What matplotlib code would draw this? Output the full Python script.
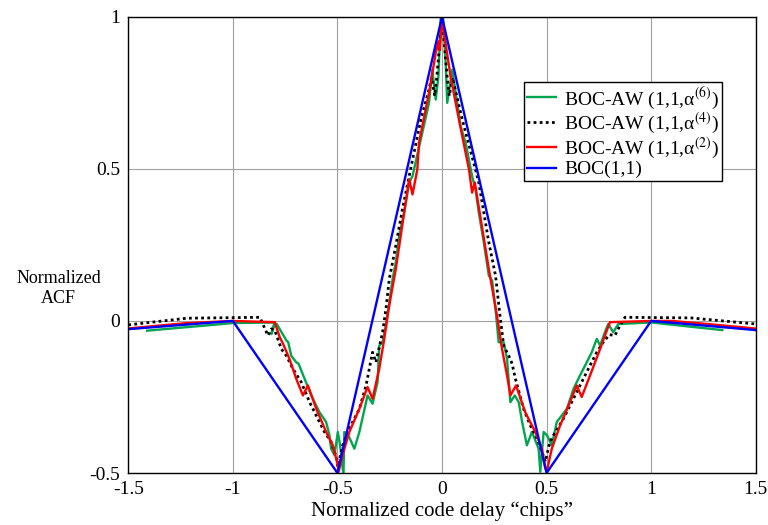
import matplotlib
matplotlib.use("Agg")
import matplotlib.pyplot as plt

plt.rcParams['font.family'] = ['Liberation Serif', 'DejaVu Serif']
plt.rcParams['mathtext.fontset'] = 'stix'
plt.rcParams['axes.unicode_minus'] = False

# BOC(1,1)
blue_x = [-1.5, -1.0, -0.5, 0.0, 0.5, 1.0, 1.5]
blue_y = [-0.027, 0.0, -0.5, 1.0, -0.5, 0.0, -0.03]

# BOC-AW (1,1,alpha^(2))
red_x = [-1.49, -1.22, -1.0, -0.80, -0.776, -0.76, -0.729, -0.697, -0.665, -0.641,
         -0.601, -0.554, -0.522, -0.498, -0.494, -0.475, -0.443, -0.395, -0.356, -0.332,
         -0.300, -0.276, -0.260, -0.244, -0.221, -0.157, -0.141, -0.118, -0.110, -0.062,
         -0.030, -0.022, -0.015, -0.010, 0.0,
         0.017, 0.041, 0.081, 0.129, 0.144, 0.157, 0.224, 0.263, 0.287, 0.311,
         0.327, 0.354, 0.398, 0.446, 0.478, 0.494, 0.502, 0.525, 0.565, 0.605,
         0.644, 0.668, 0.708, 0.756, 0.779, 0.803, 1.0, 1.1, 1.3, 1.5]
red_y = [-0.024, -0.007, 0.0, -0.004, -0.053, -0.075, -0.125, -0.190, -0.245, -0.212,
         -0.289, -0.365, -0.409, -0.474, -0.496, -0.44, -0.365, -0.289, -0.217, -0.256,
         -0.157, -0.059, 0.017, 0.083, 0.170, 0.466, 0.416, 0.498, 0.586, 0.750,
         0.881, 0.903, 0.92, 0.89, 1.0,
         0.914, 0.804, 0.662, 0.498, 0.422, 0.455, 0.170, 0.017, -0.092, -0.179,
         -0.245, -0.212, -0.300, -0.365, -0.420, -0.485, -0.491, -0.420, -0.343, -0.278,
         -0.212, -0.250, -0.179, -0.092, -0.048, -0.004, 0.0, 0.0, -0.012, -0.025]

# BOC-AW (1,1,alpha^(4))
black_x = [-1.5, -1.22, -0.871, -0.832, -0.816, -0.80, -0.768, -0.744, -0.713, -0.673,
           -0.633, -0.594, -0.562, -0.530, -0.503, -0.498, -0.475, -0.443, -0.395, -0.363,
           -0.332, -0.316, -0.284, -0.268, -0.252, -0.221, -0.189, -0.157, -0.101, -0.062,
           -0.05, -0.035, -0.025, 0.0,
           0.025, 0.035, 0.05, 0.097, 0.160, 0.176, 0.224, 0.256, 0.279, 0.295,
           0.319, 0.335, 0.351, 0.390, 0.422, 0.454, 0.478, 0.494, 0.515, 0.533,
           0.581, 0.644, 0.692, 0.740, 0.771, 0.800, 0.827, 0.851, 0.875, 1.19, 1.5]
black_y = [-0.013, 0.009, 0.012, -0.048, -0.026, -0.03, -0.092, -0.114, -0.157, -0.201,
           -0.267, -0.321, -0.365, -0.398, -0.452, -0.480, -0.409, -0.354, -0.289, -0.212,
           -0.103, -0.136, -0.037, 0.039, 0.138, 0.247, 0.367, 0.476, 0.662, 0.761,
           0.80, 0.74, 0.80, 1.0,
           0.80, 0.74, 0.80, 0.662, 0.498, 0.455, 0.258, 0.149, 0.007, -0.081,
           -0.114, -0.14, -0.190, -0.289, -0.343, -0.387, -0.430, -0.463, -0.40, -0.376,
           -0.321, -0.234, -0.168, -0.103, -0.070, -0.045, -0.048, -0.015, 0.012, 0.01, -0.01]

# BOC-AW (1,1,alpha^(6))
green_x = [-1.41, -1.0, -0.81, -0.80, -0.816, -0.80, -0.79, -0.744, -0.735, -0.721,
           -0.697, -0.686, -0.657, -0.625, -0.586, -0.554, -0.538, -0.530, -0.514, -0.498,
           -0.487, -0.471, -0.467, -0.445, -0.419, -0.395, -0.363, -0.356, -0.332, -0.308,
           -0.300, -0.284, -0.268, -0.252, -0.236, -0.221, -0.205, -0.181, -0.157, -0.141,
           -0.094, -0.062, -0.046, -0.030, -0.017, -0.006, 0.005, 0.017, 0.025, 0.049,
           0.073, 0.089, 0.113, 0.144, 0.160, 0.176, 0.200, 0.224, 0.240, 0.256,
           0.271, 0.295, 0.311, 0.327, 0.348, 0.367, 0.383, 0.406, 0.430, 0.462,
           0.470, 0.486, 0.502, 0.525, 0.549, 0.597, 0.629, 0.660, 0.692, 0.716,
           0.740, 0.756, 0.779, 0.795, 0.819, 0.843, 1.0, 1.34]
green_y = [-0.032, -0.007, -0.005, -0.004, -0.043, -0.01, -0.01, -0.064, -0.07, -0.114,
           -0.136, -0.14, -0.190, -0.245, -0.300, -0.332, -0.376, -0.420, -0.441, -0.365,
           -0.409, -0.507, -0.365, -0.38, -0.420, -0.365, -0.267, -0.245, -0.272, -0.201,
           -0.081, -0.070, -0.015, 0.061, 0.138, 0.192, 0.280, 0.356, 0.455, 0.476,
           0.619, 0.717, 0.826, 0.728, 0.804, 1.0, 1.0, 0.859, 0.717, 0.826,
           0.717, 0.640, 0.586, 0.476, 0.433, 0.356, 0.258, 0.149, 0.132, 0.039,
           -0.070, -0.070, -0.125, -0.267, -0.245, -0.267, -0.332, -0.409, -0.365, -0.420,
           -0.496, -0.365, -0.376, -0.409, -0.332, -0.289, -0.223, -0.179, -0.136, -0.103,
           -0.059, -0.081, -0.037, -0.010, -0.037, -0.010, -0.005, -0.03]

xticks = [-1.5, -1, -0.5, 0, 0.5, 1, 1.5]
xtick_labels = ['-1.5', '-1', '-0.5', '0', '0.5', '1', '1.5']
yticks = [-0.5, 0, 0.5, 1]
ytick_labels = ['-0.5', '0', '0.5', '1']

fig = plt.figure(figsize=(7.68, 5.25), dpi=100)
ax = fig.add_axes([0.167, 0.099, 0.817, 0.869])

ax.plot(green_x, green_y, color='#00a64f', lw=1.7, label='BOC-AW (1,1,\u03b1$^{(6)}$)')
ax.plot(black_x, black_y, color='black', lw=2, linestyle=(0, (1, 1.2)),
        label='BOC-AW (1,1,\u03b1$^{(4)}$)')
ax.plot(red_x, red_y, color='#ff0000', lw=1.7, label='BOC-AW (1,1,\u03b1$^{(2)}$)')
ax.plot(blue_x, blue_y, color='#0000ff', lw=1.7, label='BOC(1,1)')

ax.set_xlim(-1.5, 1.5)
ax.set_ylim(-0.5, 1)
ax.set_xticks(xticks)
ax.set_xticklabels(xtick_labels)
ax.set_yticks(yticks)
ax.set_yticklabels(ytick_labels)
ax.tick_params(direction='in', length=0, labelsize=14, pad=6)
ax.grid(True, color='#a0a0a0', lw=0.8)
ax.set_axisbelow(True)
for s in ax.spines.values():
    s.set_linewidth(1.0)

ax.set_xlabel('Normalized code delay \u201cchips\u201d', fontsize=15, labelpad=2)
ax.set_ylabel('Normalized\nACF', fontsize=13, rotation=0, ha='center', va='center',
              linespacing=1.2)
ax.yaxis.set_label_coords(-0.111, 0.405)

leg = ax.legend(loc='upper right', bbox_to_anchor=(0.946, 0.857), fontsize=14,
                frameon=True, fancybox=False, edgecolor='black', framealpha=1,
                handlelength=1.5, handletextpad=0.4, borderpad=0.15, labelspacing=0.0,
                borderaxespad=0)
leg.get_frame().set_linewidth(1.0)

fig.savefig('out.png', dpi=100)
